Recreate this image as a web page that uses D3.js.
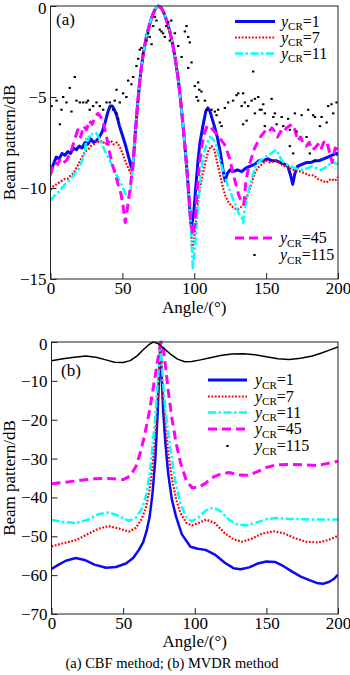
<!DOCTYPE html>
<html lang="en">
<head>
    <meta charset="UTF-8">
    <title>Beam pattern - CBF and MVDR</title>
    <script src="https://d3js.org/d3.v7.min.js"></script>
    <style>
        body { margin: 0; background: #fff; }
        text { font-family: "Liberation Serif", "Times New Roman", serif; fill: #000; }
    </style>
</head>
<body>
    <svg id="chart" width="350" height="675"></svg>
    <script>
        // ---- data: [angle (deg), beam pattern (dB)] ----
        const xTicks = [0, 50, 100, 150, 200];
        const cbfTicks = [0, -5, -10, -15];
        const mvdrTicks = [0, -10, -20, -30, -40, -50, -60, -70];
        const legendNames = ["1", "7", "11", "45", "115"];

        // shared main lobe of the CBF panel
        const cbfLobe = [[57.5,-8.6],[59,-7.0],[60.5,-5.5],[62,-4.2],[63.5,-3.2],[65,-2.4],[67,-1.6],[69,-1.0],[71,-0.5],[73,-0.15],[75,0],[77,-0.1],[79,-0.4],[81,-0.85],[83,-1.4],[85,-2.1],[87,-3.0],[89,-4.1],[90.5,-5.2],[92,-6.4],[93.5,-7.7],[95,-9.1],[96.5,-10.7],[97.5,-11.8]];

        const cbfLeft1 = [[0,-9.1],[2,-8.7],[4,-8.3],[6,-8.4],[8,-8.1],[10,-8.2],[12,-8.0],[14,-8.1],[16,-7.8],[18,-7.9],[20,-7.7],[22,-7.8],[24,-7.5],[26,-7.6],[28,-7.3],[30,-7.5],[32,-7.4],[34,-7.2],[36,-6.9],[38,-6.4],[40,-5.8],[41.5,-5.5],[43,-5.5],[44.5,-5.7],[46,-6.0],[48,-6.6],[50,-7.1],[52,-7.6],[54,-8.2],[56,-8.8],[57,-9.0]];
        const cbfRight1 = [[98,-12.1],[99.5,-11.5],[101,-10],[102.5,-8.6],[104,-7.5],[106,-6.6],[108,-5.8],[109.5,-5.6],[111,-5.8],[112.5,-6.2],[114,-6.6],[116,-7.2],[118,-8.0],[120,-9.0],[121.5,-9.6],[123,-9.2],[125,-9.0],[127,-9.1],[130,-9.0],[133,-9.1],[136,-8.9],[139,-8.8],[142,-8.7],[145,-8.5],[148,-8.5],[151,-8.4],[154,-8.5],[157,-8.5],[160,-8.6],[163,-8.7],[165,-8.8],[167,-9.3],[168.5,-9.8],[170,-9.2],[172,-8.8],[175,-8.7],[178,-8.6],[181,-8.6],[184,-8.5],[187,-8.5],[190,-8.4],[193,-8.3],[196,-8.2],[199,-8.1],[200,-8.2]];

        const cbfLeft7 = [[0,-10.1],[2,-9.9],[4,-9.8],[6,-9.7],[8,-9.6],[10,-9.5],[12,-9.5],[14,-9.3],[16,-9.2],[18,-8.9],[20,-8.6],[22,-8.3],[24,-8.0],[26,-7.9],[28,-7.7],[30,-7.6],[32,-7.4],[34,-7.5],[36,-7.4],[38,-7.6],[40,-7.5],[42,-7.4],[44,-7.6],[46,-7.5],[48,-7.7],[50,-8.1],[52,-8.5],[54,-8.9],[56,-9.2]];
        const cbfRight7 = [[98.5,-13.4],[100,-12.8],[101.5,-11.6],[103,-10.5],[104.5,-9.8],[106,-9.2],[108,-8.5],[110,-7.9],[112,-7.7],[114,-7.9],[116,-8.6],[118,-9.3],[120,-10.0],[122,-10.5],[124,-10.8],[126,-11.0],[128,-11.1],[130,-11.2],[132,-11.1],[134,-10.9],[136,-10.6],[138,-10.2],[140,-9.7],[142,-9.2],[144,-8.9],[147,-8.7],[150,-8.5],[153,-8.6],[156,-8.5],[159,-8.6],[162,-8.8],[165,-8.8],[168,-9.0],[171,-9.0],[174,-9.1],[177,-9.2],[180,-9.3],[183,-9.3],[186,-9.5],[189,-9.6],[192,-9.7],[195,-9.5],[198,-9.6],[200,-9.4]];

        const cbfLeft11 = [[0,-10.7],[2,-10.5],[4,-10.3],[6,-10.2],[8,-10.0],[10,-9.8],[12,-9.7],[14,-9.5],[16,-9.3],[18,-9.1],[20,-8.9],[22,-8.5],[24,-8.0],[25,-7.2],[26,-7.4],[28,-7.0],[30,-7.1],[32,-7.0],[34,-7.3],[36,-7.6],[38,-8.0],[40,-8.3],[42,-8.6],[44,-8.9],[46,-9.3],[48,-9.6],[50,-9.9],[52,-10.3],[54,-10.5],[55.5,-10.3],[56.5,-9.5]];
        const cbfRight11 = [[99,-14.4],[100.5,-13.3],[102,-11.6],[103.5,-10.2],[105,-9.0],[107,-8.0],[109,-7.5],[111,-7.2],[113,-7.3],[115,-7.6],[117,-8.2],[119,-8.8],[121,-9.3],[123,-9.8],[125,-10.2],[127,-10.6],[129,-11.0],[131,-11.4],[133,-11.6],[134,-11.9],[135,-11.2],[137,-10.4],[139,-9.8],[141,-9.2],[143,-8.7],[146,-8.5],[149,-8.3],[152,-8.2],[155,-8.0],[157,-7.9],[159,-8.2],[161,-8.5],[164,-8.7],[167,-8.8],[170,-8.9],[173,-9.0],[176,-9.0],[179,-8.9],[182,-8.8],[185,-8.9],[188,-9.0],[191,-8.9],[194,-8.7],[197,-8.6],[200,-8.7]];

        const cbfLeft45 = [[0,-9.3],[1.5,-8.8],[3,-8.6],[5,-8.7],[7,-8.4],[9,-8.6],[11,-8.5],[13,-8.2],[15,-7.8],[17,-7.3],[19,-6.8],[21,-7.2],[23,-6.6],[25,-6.8],[27,-6.3],[29,-6.5],[31,-6.1],[33,-5.9],[35,-6.1],[37,-6.5],[39,-7.2],[41,-8.0],[43,-8.7],[45,-9.2],[47,-9.8],[49,-10.3],[50.5,-11.0],[52,-11.9],[53,-11.4],[54.5,-10.6],[56,-9.6]];
        const cbfRight45 = [[99,-12.6],[100.5,-12.0],[102,-10.2],[103.5,-8.8],[105,-7.8],[107,-7.0],[109,-6.6],[111,-6.6],[113,-6.8],[115,-7.0],[117,-7.2],[119,-7.4],[121,-7.6],[123,-8.0],[125,-8.5],[127,-9.2],[129,-9.8],[131,-10.4],[133,-10.8],[134.5,-10.9],[136,-9.6],[138,-8.8],[140,-8.3],[142,-7.8],[144,-7.5],[146,-7.2],[148,-7.0],[150,-6.8],[152,-6.9],[154,-6.7],[156,-6.9],[158,-7.2],[160,-6.9],[162,-7.0],[164,-6.7],[166,-6.6],[168,-6.5],[170,-6.8],[172,-7.4],[174,-7.2],[176,-7.6],[178,-7.7],[180,-7.5],[182,-7.9],[184,-7.8],[186,-7.6],[188,-7.9],[190,-7.5],[192,-7.4],[194,-8.0],[196,-8.6],[198,-7.8],[200,-7.9]];

        const cbfDots115 = [[0.7,-5.5],[4.2,-5.2],[6.5,-6.5],[7.6,-5.7],[8.8,-5.0],[11.1,-5.3],[13.4,-4.5],[14.6,-5.8],[16.9,-3.9],[18.1,-5.2],[20.4,-5.3],[22.7,-5.3],[25.0,-5.3],[26.1,-5.2],[27.3,-5.7],[29.6,-5.5],[32.0,-5.3],[34.3,-5.5],[36.6,-5.7],[39.0,-5.3],[41.3,-5.3],[43.6,-5.7],[44.7,-5.2],[45.9,-4.6],[45.9,-5.9],[47.0,-6.2],[48.2,-5.3],[50.5,-4.8],[52.8,-5.0],[54.0,-4.1],[56.3,-4.3],[57.5,-3.9],[59.8,-3.3],[61.0,-2.9],[62.1,-2.4],[63.3,-2.3],[64.4,-2.6],[66.7,-1.9],[67.9,-1.5],[69.0,-1.7],[70.3,-2.1],[71.4,-1.1],[72.6,-0.6],[73.7,-0.8],[76.0,-1.3],[77.2,-1.4],[78.3,-1.5],[79.5,-1.7],[80.6,-1.1],[81.9,-0.9],[83.0,-1.9],[84.0,-0.8],[86.5,-1.5],[88.8,-2.2],[91.2,-2.8],[93.5,-1.4],[94.6,-1.1],[95.8,-1.7],[95.8,-3.4],[96.9,-2.0],[98.1,-3.1],[100.4,-4.4],[101.6,-5.0],[102.7,-4.2],[102.7,-5.2],[103.5,-4.6],[105.0,-4.7],[107.4,-5.2],[108.6,-5.7],[112.0,-5.7],[114.3,-5.8],[115.5,-6.0],[116.6,-5.7],[117.8,-6.4],[119.0,-6.6],[121.3,-5.6],[123.6,-5.3],[127.0,-5.2],[129.4,-4.9],[130.6,-4.8],[133.0,-5.5],[134.0,-4.8],[134.0,-6.5],[135.2,-5.3],[136.4,-6.3],[137.5,-5.5],[139.9,-5.2],[141.0,-3.6],[142.2,-5.1],[142.2,-5.9],[144.5,-5.0],[145.6,-5.7],[146.8,-5.7],[148.0,-5.4],[149.1,-6.6],[149.1,-5.9],[153.8,-5.1],[155.0,-6.1],[156.1,-5.9],[157.3,-6.5],[160.8,-6.1],[161.9,-6.6],[165.3,-6.2],[166.5,-6.8],[166.5,-7.7],[168.8,-8.1],[170.0,-5.9],[171.2,-6.9],[174.7,-6.0],[178.1,-7.2],[179.3,-5.7],[180.4,-8.1],[182.7,-6.0],[184.0,-6.1],[184.0,-8.5],[187.4,-6.6],[188.6,-6.1],[192.1,-6.4],[193.2,-5.5],[195.5,-5.4],[196.7,-5.9],[199.0,-5.3]];

        const mvdr1 = [[0,-58.4],[5,-57.3],[10,-56.3],[17,-55.6],[23,-56.1],[30,-57.3],[38,-58.1],[45,-57.9],[52,-57.0],[57,-55.6],[61,-53.5],[64,-51.5],[66.5,-48.5],[68.5,-45],[70.5,-39],[72.5,-30],[74,-19],[75.2,-8],[76,0],[76.8,-8],[78,-18],[79.5,-26],[81.5,-34],[84,-40.5],[87,-45],[91,-49.5],[97,-52.7],[102,-53.2],[107.5,-53.5],[114,-54.7],[121,-56.8],[127,-58.2],[132,-58.5],[138,-58.0],[144,-57.0],[150,-56.5],[156,-56.6],[162,-57.7],[168,-59.1],[174,-60.4],[180,-61.3],[186,-62.1],[190,-62.2],[194,-61.7],[197,-61.0],[200,-59.9]];
        const mvdr7 = [[0,-52.6],[8,-51.8],[17,-51],[25,-49.5],[33,-48],[40,-47.4],[47,-48],[54,-48.8],[59,-47.8],[63,-45.5],[66,-42.5],[68.5,-38],[70.5,-32],[72.5,-24],[74,-15],[75.3,-6],[76,0],[76.8,-6],[78,-14],[79.5,-21],[81.5,-28.5],[84,-35],[87,-40.5],[90,-44],[94,-46.5],[98,-47.2],[103,-46.5],[108,-45.7],[114,-46.6],[121,-49.2],[127,-50.8],[133,-51.4],[140,-50.6],[147,-49.3],[155,-48.7],[162,-49.2],[170,-50.5],[178,-51.4],[186,-51.6],[193,-51],[200,-49.9]];
        const mvdr11 = [[0,-45.8],[8,-46.3],[17,-46.6],[25,-45.8],[33,-44.3],[40,-43.8],[47,-44.8],[54,-46],[59,-45.2],[63,-43],[66,-39.5],[68.5,-34],[70.5,-27],[72.5,-19],[74,-11],[75.3,-4.5],[76,0],[76.8,-4.5],[78,-11],[79.5,-17],[81.5,-23.5],[84,-30],[86.5,-36],[90,-41.5],[94,-45],[98,-46.2],[103,-45],[108,-43.3],[113,-42.6],[118,-43.5],[124,-45.8],[130,-47],[136,-47.2],[143,-46.5],[150,-45.6],[157,-45.3],[165,-45.5],[175,-45.6],[185,-45.7],[200,-45.7]];
        const mvdr45 = [[0,-36.5],[10,-36.1],[20,-35.6],[30,-35.2],[40,-35.1],[50,-35.4],[55,-34.5],[59,-32],[62,-28.5],[65,-24],[68,-18.5],[70.5,-13],[72.5,-8.5],[74.5,-4],[76,-0.5],[77,0],[78,-1.5],[79.5,-6],[81.5,-12.5],[84,-19.5],[87,-26],[90,-31],[94,-35.5],[98,-37.5],[103,-37.4],[108,-36.2],[113,-34.8],[118,-34],[124,-33.6],[131,-34.2],[137,-34.3],[143,-33.5],[150,-32.3],[157,-31.6],[165,-31.5],[175,-31.6],[185,-31.8],[192,-31.3],[200,-30.7]];
        const mvdr115 = [[0,-4.8],[8,-4.3],[16,-3.9],[24,-3.6],[31,-3.9],[38,-4.6],[44,-5.2],[50,-5.3],[55,-4.8],[60,-3.5],[64,-2.0],[68,-0.7],[71,0],[74,-0.3],[78,-1.5],[83,-3.1],[88,-4.4],[93,-5.1],[98,-5.0],[104,-4.6],[110,-4.1],[118,-3.5],[126,-3.1],[134,-3.0],[142,-3.3],[150,-3.8],[158,-4.3],[166,-4.5],[174,-4.2],[182,-3.6],[188,-2.9],[194,-2.1],[200,-1.3]];

        // ---- styles ----
        const FONT = '"Liberation Serif", "Times New Roman", serif';
        const seriesStyle = {
            "1":  { color: "#0a0af5", width: 3,   dash: null },
            "7":  { color: "#ff0000", width: 2.2, dash: "1.8,1.6" },
            "11": { color: "#00ffff", width: 2.5, dash: "8,2.5,2.5,2.5" },
            "45": { color: "#ff00ff", width: 3,   dash: "9,5" }
        };

        const svg = d3.select("#chart");
        const minus = d => (d < 0 ? "\u2212" + Math.abs(d) : String(d));

        function drawPanel(opt) {
            const x = d3.scaleLinear().domain([0, 200]).range([opt.left, opt.right]);
            const y = d3.scaleLinear().domain(opt.yDomain).range([opt.bottom, opt.top]);
            const g = svg.append("g");

            const clipId = "clip-" + opt.id;
            g.append("clipPath").attr("id", clipId)
                .append("rect")
                .attr("x", opt.left).attr("y", opt.top - 2)
                .attr("width", opt.right - opt.left).attr("height", opt.bottom - opt.top + 2);

            const plot = g.append("g").attr("clip-path", `url(#${clipId})`);
            const line = d3.line().x(d => x(d[0])).y(d => y(d[1]));

            opt.series.forEach(s => {
                if (s.dots) {
                    plot.selectAll(null).data(s.data).enter().append("rect")
                        .attr("x", d => x(d[0]) - 1.2)
                        .attr("y", d => y(d[1]) - 1)
                        .attr("width", 2.4).attr("height", 2)
                        .attr("fill", "#000");
                } else {
                    const st = s.style;
                    plot.append("path")
                        .datum(s.data)
                        .attr("d", line)
                        .attr("fill", "none")
                        .attr("stroke", st.color)
                        .attr("stroke-width", st.width)
                        .attr("stroke-dasharray", st.dash)
                        .attr("stroke-linejoin", "round");
                }
            });

            // axes with inward ticks
            const xAxis = g.append("g")
                .attr("transform", `translate(0,${opt.bottom})`)
                .call(d3.axisBottom(x).tickValues(xTicks).tickSizeInner(-6).tickSizeOuter(0).tickPadding(3));
            const yAxis = g.append("g")
                .attr("transform", `translate(${opt.left},0)`)
                .call(d3.axisLeft(y).tickValues(opt.yTicks).tickFormat(minus).tickSizeInner(-6).tickSizeOuter(0).tickPadding(4));
            [xAxis, yAxis].forEach(a => {
                a.attr("font-family", FONT).attr("font-size", 17);
                a.select(".domain").remove();
                a.selectAll("line").attr("stroke", "#222");
                a.selectAll("text").attr("fill", "#000");
            });
            yAxis.selectAll(".tick text").filter(d => d === 0).attr("dy", "0.42em");

            g.append("rect")
                .attr("x", opt.left).attr("y", opt.top)
                .attr("width", opt.right - opt.left).attr("height", opt.bottom - opt.top)
                .attr("fill", "none").attr("stroke", "#222").attr("stroke-width", 1);

            g.append("text")
                .attr("transform", `translate(15,${(opt.top + opt.bottom) / 2}) rotate(-90)`)
                .attr("text-anchor", "middle")
                .attr("font-family", FONT).attr("font-size", 17)
                .text("Beam pattern/dB");

            g.append("text")
                .attr("x", (opt.left + opt.right) / 2).attr("y", opt.xTitleY)
                .attr("text-anchor", "middle")
                .attr("font-family", FONT).attr("font-size", 17)
                .text("Angle/(\u00b0)");

            g.append("text")
                .attr("x", opt.tagX).attr("y", opt.tagY)
                .attr("font-family", FONT).attr("font-size", 17)
                .text(opt.tag);

            // legend
            opt.legend.forEach(item => {
                const lg = g.append("g");
                if (item.name === "115") {
                    lg.append("rect")
                        .attr("x", (item.x0 + item.x1) / 2 - 1.2).attr("y", item.y - 1)
                        .attr("width", 2.4).attr("height", 2).attr("fill", "#000");
                } else {
                    const st = seriesStyle[item.name];
                    lg.append("line")
                        .attr("x1", item.x0).attr("x2", item.x1)
                        .attr("y1", item.y).attr("y2", item.y)
                        .attr("stroke", st.color)
                        .attr("stroke-width", st.width)
                        .attr("stroke-dasharray", st.dash);
                }
                const t = lg.append("text")
                    .attr("x", item.tx).attr("y", item.y + 5)
                    .attr("font-family", FONT).attr("font-size", 16);
                t.append("tspan").attr("font-style", "italic").text("y");
                t.append("tspan").attr("dy", 3.5).attr("font-size", 11).text("CR");
                t.append("tspan").attr("dy", -3.5).text("=" + item.name);
            });
        }

        const cbfSeries = [
            { data: cbfLeft1.concat(cbfLobe, cbfRight1), style: seriesStyle["1"] },
            { data: cbfLeft7.concat(cbfLobe, cbfRight7), style: seriesStyle["7"] },
            { data: cbfLeft11.concat(cbfLobe, cbfRight11), style: seriesStyle["11"] },
            { data: cbfLeft45.concat(cbfLobe, cbfRight45), style: seriesStyle["45"] },
            { data: cbfDots115, dots: true }
        ];

        drawPanel({
            id: "a", left: 50.5, right: 338, top: 6, bottom: 279,
            yDomain: [-15, 0], yTicks: cbfTicks, xTitleY: 313,
            tag: "(a)", tagX: 56, tagY: 25,
            series: cbfSeries,
            legend: [
                { name: legendNames[0], x0: 235, x1: 275, y: 21.5, tx: 281 },
                { name: legendNames[1], x0: 235, x1: 275, y: 37.5, tx: 281 },
                { name: legendNames[2], x0: 235, x1: 275, y: 53.5, tx: 281 },
                { name: legendNames[3], x0: 235, x1: 274, y: 238, tx: 280 },
                { name: legendNames[4], x0: 235, x1: 274, y: 255, tx: 280 }
            ]
        });

        drawPanel({
            id: "b", left: 51.5, right: 338, top: 342, bottom: 614,
            yDomain: [-70, 0], yTicks: mvdrTicks, xTitleY: 647,
            tag: "(b)", tagX: 61, tagY: 376,
            series: [
                { data: mvdr1, style: { color: "#0a0af5", width: 2.5, dash: null } },
                { data: mvdr7, style: seriesStyle["7"] },
                { data: mvdr11, style: seriesStyle["11"] },
                { data: mvdr45, style: seriesStyle["45"] },
                { data: mvdr115, style: { color: "#000", width: 1.5, dash: null } }
            ],
            legend: [
                { name: legendNames[0], x0: 208, x1: 247, y: 380, tx: 255 },
                { name: legendNames[1], x0: 208, x1: 247, y: 396.5, tx: 255 },
                { name: legendNames[2], x0: 208, x1: 247, y: 412.5, tx: 255 },
                { name: legendNames[3], x0: 208, x1: 247, y: 429, tx: 255 },
                { name: legendNames[4], x0: 208, x1: 247, y: 446, tx: 255 }
            ]
        });

        svg.append("text")
            .attr("x", 172).attr("y", 668)
            .attr("text-anchor", "middle")
            .attr("font-family", FONT).attr("font-size", 14.5)
            .text("(a) CBF method; (b) MVDR method");
    </script>
</body>
</html>
